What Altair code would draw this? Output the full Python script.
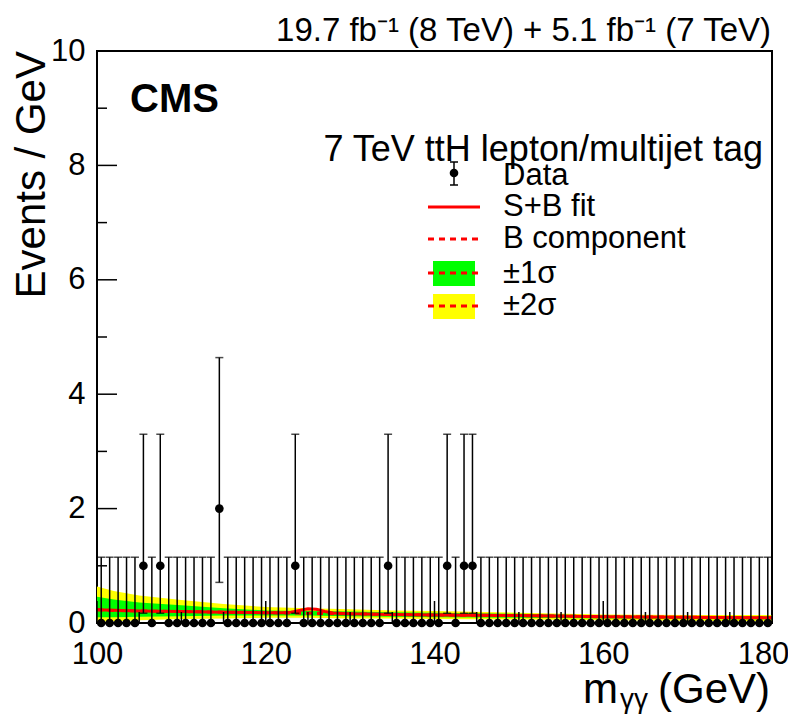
import altair as alt
import pandas as pd

# ---------------- data ----------------
counts = [0, 0, 0, 0, 0, 1, 0, 1, 0, 0,
          0, 0, 0, 0, 2, 0, 0, 0, 0, 0,
          0, 0, 0, 1, 0, 0, 0, 0, 0, 0,
          0, 0, 0, 0, 1, 0, 0, 0, 0, 0,
          0, 1, 0, 1, 1, 0, 0, 0, 0, 0,
          0, 0, 0, 0, 0, 0, 0, 0, 0, 0,
          0, 0, 0, 0, 0, 0, 0, 0, 0, 0,
          0, 0, 0, 0, 0, 0, 0, 0, 0, 0]
bin_centers = [100.5 + i for i in range(len(counts))]
# Poisson interval edges (absolute values) for each observed count
interval_lo = {0: 0.0, 1: 0.17, 2: 0.71}
interval_hi = {0: 1.15, 1: 3.30, 2: 4.64}

band_x = [100, 102, 105, 110, 115, 120, 125, 130, 135, 140, 150, 160, 170, 180]
bkg = [0.23, 0.22, 0.21, 0.20, 0.19, 0.18, 0.17, 0.16, 0.15, 0.14, 0.13, 0.11, 0.10, 0.09]
s2_hi = [0.64, 0.56, 0.48, 0.40, 0.33, 0.28, 0.26, 0.24, 0.22, 0.21, 0.18, 0.15, 0.14, 0.14]
s1_hi = [0.46, 0.41, 0.36, 0.31, 0.26, 0.22, 0.21, 0.20, 0.19, 0.18, 0.16, 0.13, 0.12, 0.12]
s1_lo = [0.10, 0.10, 0.11, 0.12, 0.13, 0.13, 0.13, 0.12, 0.11, 0.10, 0.09, 0.08, 0.07, 0.06]
s2_lo = [0.02, 0.03, 0.05, 0.07, 0.08, 0.09, 0.09, 0.08, 0.08, 0.07, 0.06, 0.05, 0.04, 0.03]

sb_x = [100, 105, 110, 115, 120, 122, 123, 124, 125, 126, 127, 128, 130, 135, 140, 150, 160, 170, 180]
sb_y = [0.23, 0.21, 0.20, 0.19, 0.18, 0.18, 0.19, 0.22, 0.25, 0.24, 0.20, 0.175, 0.16, 0.15, 0.14, 0.13, 0.11, 0.10, 0.09]

x_major = [100, 120, 140, 160, 180]
x_minor = [105, 110, 115, 125, 130, 135, 145, 150, 155, 165, 170, 175]
y_major = [0, 2, 4, 6, 8, 10]
y_minor = [1, 3, 5, 7, 9]

legend_labels = ["Data", "S+B fit", "B component", "\u00b11\u03c3", "\u00b12\u03c3"]

# ---------------- frames ----------------
data_df = pd.DataFrame({
    "m": bin_centers,
    "n": counts,
    "lo": [interval_lo[c] for c in counts],
    "hi": [interval_hi[c] for c in counts],
})
band_df = pd.DataFrame({"m": band_x, "b": bkg, "s2h": s2_hi, "s1h": s1_hi,
                        "s1l": s1_lo, "s2l": s2_lo})
sb_df = pd.DataFrame({"m": sb_x, "y": sb_y})

W, H = 675, 572
FONT = "Liberation Sans"

xs = alt.Scale(domain=[100, 180], nice=False, zero=False)
ys = alt.Scale(domain=[0, 10], nice=False, zero=False)
xaxis = alt.Axis(values=x_major, ticks=False, domain=False, grid=False, labelFontSize=31,
                 labelFont=FONT, labelColor="black", labelPadding=16, labelFlush=False,
                 labelOffset={"condition": {"test": "datum.value == 180", "value": -9}, "value": 0},
                 title=None, format="d")
yaxis = alt.Axis(values=y_major, ticks=False, domain=False, grid=False, labelFontSize=31,
                 labelFont=FONT, labelColor="black", labelPadding=12, labelFlush=False,
                 title=None, format="d")

X = lambda f: alt.X(f"{f}:Q", scale=xs, axis=xaxis)
Y = lambda f: alt.Y(f"{f}:Q", scale=ys, axis=yaxis)

band2 = alt.Chart(band_df).mark_area(color="#ffff00", opacity=1).encode(
    x=X("m"), y=Y("s2l"), y2="s2h")
band1 = alt.Chart(band_df).mark_area(color="#00ff00", opacity=1).encode(
    x=X("m"), y=Y("s1l"), y2="s1h")
bline = alt.Chart(band_df).mark_line(color="#ff0000", strokeWidth=3, strokeDash=[6, 5]).encode(
    x=X("m"), y=Y("b"))
sbline = alt.Chart(sb_df).mark_line(color="#ff0000", strokeWidth=3).encode(
    x=X("m"), y=Y("y"))

ebar = alt.Chart(data_df).mark_rule(color="black", strokeWidth=1.5).encode(
    x=X("m"), y=Y("lo"), y2="hi")
cap_hi = alt.Chart(data_df).mark_tick(color="black", orient="horizontal", size=8, thickness=1.5).encode(
    x=X("m"), y=Y("hi"))
cap_lo = alt.Chart(data_df).transform_filter("datum.n > 0").mark_tick(
    color="black", orient="horizontal", size=8, thickness=1.5).encode(x=X("m"), y=Y("lo"))
pts = alt.Chart(data_df).mark_point(filled=True, color="black", opacity=1, size=75, shape="circle").encode(
    x=X("m"), y=Y("n"))

# inward ticks
xmaj = alt.Chart(pd.DataFrame({"v": x_major})).mark_rule(color="black", strokeWidth=1.5).encode(
    x=X("v"), y=alt.value(H), y2=alt.value(H - 22))
xmin = alt.Chart(pd.DataFrame({"v": x_minor})).mark_rule(color="black", strokeWidth=1.5).encode(
    x=X("v"), y=alt.value(H), y2=alt.value(H - 11))
ymaj = alt.Chart(pd.DataFrame({"v": y_major})).mark_rule(color="black", strokeWidth=1.5).encode(
    y=Y("v"), x=alt.value(0), x2=alt.value(20))
ymin = alt.Chart(pd.DataFrame({"v": y_minor})).mark_rule(color="black", strokeWidth=1.5).encode(
    y=Y("v"), x=alt.value(0), x2=alt.value(10))

one = pd.DataFrame({"a": [0]})


def txt(s, x, y, size, align="left", weight="normal", angle=0, baseline="middle"):
    kw = dict(text=s, fontSize=size, font=FONT, align=align, baseline=baseline,
              fontWeight=weight, color="black")
    if angle:
        kw["angle"] = angle
    return alt.Chart(one).mark_text(**kw).encode(x=alt.value(x), y=alt.value(y))


texts = [
    txt("19.7 fb\u207b\u00b9 (8 TeV) + 5.1 fb\u207b\u00b9 (7 TeV)", W - 1, -20, 33, align="right"),
    txt("CMS", 33, 49, 40, weight="bold"),
    txt("7 TeV ttH lepton/multijet tag", 666, 99, 36, align="right"),
    txt("Events / GeV", -65, 0, 42, align="right", angle=270),
    txt("(GeV)", 673, 639, 42, align="right"),
    txt("\u03b3\u03b3", 523, 649, 28, align="left"),
    txt("m", 486, 639, 42, align="left"),
]

# legend
LX = 406
leg_y = [125, 156, 188, 223, 255]
legend_layers = []
for lab, yy in zip(legend_labels, leg_y):
    legend_layers.append(txt(lab, LX, yy, 31))

legend_layers += [
    alt.Chart(one).mark_rect(color="#00ff00").encode(
        x=alt.value(336), x2=alt.value(378), y=alt.value(210), y2=alt.value(235)),
    alt.Chart(one).mark_rect(color="#ffff00").encode(
        x=alt.value(336), x2=alt.value(378), y=alt.value(243), y2=alt.value(268)),
    alt.Chart(one).mark_rule(color="#ff0000", strokeWidth=3).encode(
        x=alt.value(331), x2=alt.value(383), y=alt.value(156)),
    alt.Chart(one).mark_rule(color="#ff0000", strokeWidth=3, strokeDash=[6, 5]).encode(
        x=alt.value(331), x2=alt.value(383), y=alt.value(188)),
    alt.Chart(one).mark_rule(color="#ff0000", strokeWidth=3, strokeDash=[6, 5]).encode(
        x=alt.value(331), x2=alt.value(383), y=alt.value(222)),
    alt.Chart(one).mark_rule(color="#ff0000", strokeWidth=3, strokeDash=[6, 5]).encode(
        x=alt.value(331), x2=alt.value(383), y=alt.value(255)),
    alt.Chart(one).mark_rule(color="black", strokeWidth=1.5).encode(
        x=alt.value(357), y=alt.value(111), y2=alt.value(134)),
    alt.Chart(one).mark_rule(color="black", strokeWidth=1.5).encode(
        x=alt.value(353), x2=alt.value(361), y=alt.value(111)),
    alt.Chart(one).mark_rule(color="black", strokeWidth=1.5).encode(
        x=alt.value(353), x2=alt.value(361), y=alt.value(134)),
    alt.Chart(one).mark_point(filled=True, color="black", opacity=1, size=75, shape="circle").encode(
        x=alt.value(357), y=alt.value(122)),
]

chart = alt.layer(
    band2, band1, bline, sbline, ebar, cap_hi, cap_lo, pts,
    xmaj, xmin, ymaj, ymin, *texts, *legend_layers
).properties(
    width=W, height=H,
    padding={"left": 89, "top": 43, "right": 16, "bottom": 93},
    autosize=alt.AutoSizeParams(type="none"),
    background="white",
).configure_view(stroke="black", strokeWidth=2)

chart.save("out.html", embed_options={"renderer": "svg", "actions": False})
